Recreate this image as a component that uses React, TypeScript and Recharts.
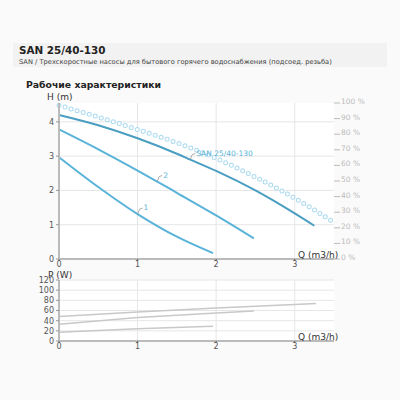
import { LineChart, Line, XAxis, YAxis, CartesianGrid } from 'recharts';

// pump curves, H (m) vs Q (m3/h)
const Q_SPEED1 = [0, 0.5, 1, 1.5, 1.96];
const H_SPEED1 = [2.97, 2.1, 1.31, 0.65, 0.17];
const Q_SPEED2 = [0, 0.5, 1, 1.25, 1.5, 2, 2.48];
const H_SPEED2 = [3.78, 3.2, 2.58, 2.26, 1.93, 1.27, 0.6];
const Q_SPEED3 = [0, 0.5, 1, 1.5, 1.67, 2, 2.5, 3, 3.25];
const H_SPEED3 = [4.2, 3.9, 3.52, 3.07, 2.9, 2.57, 2.0, 1.33, 0.97];

// efficiency (%)
const Q_EFF = [0, 0.5, 1, 1.5, 2, 2.5, 3, 3.5];
const EFF = [98.5, 91, 83, 74.5, 64.5, 52.5, 39, 23.5];

// power, P (W)
const Q_P1 = [0, 1, 1.96];
const P1 = [17, 24, 29];
const Q_P2 = [0, 1, 2, 2.48];
const P2 = [33, 46, 55, 59];
const Q_P3 = [0, 1, 2, 3, 3.27];
const P3 = [48, 57, 65, 72, 74];

const Q_TICKS = [0, 1, 2, 3];
const H_TICKS = [0, 1, 2, 3, 4];
const PCT_TICKS = [0, 10, 20, 30, 40, 50, 60, 70, 80, 90, 100];
const P_TICKS = [0, 20, 40, 60, 80, 100, 120];

const pairs = (qs: number[], vs: number[]) => qs.map((q, i) => ({ q, v: vs[i] }));

const FONT = '"DejaVu Sans", Verdana, sans-serif';
const BLUE = '#5ab3d8';
const BLUE_DARK = '#4a9ec2';
const EFF_BLUE = '#acdaef';

const curveLabel = (text: string, at: number) => (props: any) => {
  const { x, y, index } = props;
  if (index !== at) return null;
  return (
    <g>
      <path d={`M${x},${y} L${x + 2},${y - 5} L${x + 5},${y - 6}`} stroke="#999" strokeWidth={0.8} fill="none" />
      <text x={x + 6} y={y - 4} fontSize={7.5} fill={BLUE} fontFamily={FONT}>
        {text}
      </text>
    </g>
  );
};

const PctTick = ({ x, y, payload }: any) => (
  <g>
    <line x1={x} x2={x + 6} y1={y} y2={y} stroke="#bbb" strokeWidth={1} />
    <text x={x + 7} y={y + 1} fontSize={7.5} fill="#bbb" fontFamily={FONT}>
      {payload.value} %
    </text>
  </g>
);

const tickStyle = { fontSize: 8, fill: '#555', fontFamily: FONT };

export default function App() {
  return (
    <div style={{ position: 'absolute', left: 0, top: 0, width: 400, height: 400, background: '#fafafa', fontFamily: FONT }}>
      {/* header */}
      <div style={{ position: 'absolute', left: 13, top: 43, width: 374, height: 24, background: '#f2f2f2' }} />
      <div style={{ position: 'absolute', left: 19, top: 44, fontSize: 10.4, fontWeight: 'bold', color: '#222' }}>SAN 25/40-130</div>
      <div style={{ position: 'absolute', left: 19, top: 58, fontSize: 6.7, color: '#444', whiteSpace: 'nowrap' }}>
        SAN / Трехскоростные насосы для бытового горячего водоснабжения (подсоед. резьба)
      </div>
      <div style={{ position: 'absolute', left: 26, top: 79, fontSize: 9.3, fontWeight: 'bold', color: '#222' }}>Рабочие характеристики</div>

      {/* head / efficiency chart */}
      <div style={{ position: 'absolute', left: 0, top: 0 }}>
        <LineChart width={400} height={280} margin={{ top: 103, right: 26, left: 29, bottom: 5 }}>
          <CartesianGrid yAxisId="h" stroke="#e6e6e6" fill="#fff" horizontalValues={H_TICKS} verticalValues={Q_TICKS} />
          <XAxis
            type="number"
            dataKey="q"
            domain={[0, 3.5]}
            ticks={Q_TICKS}
            interval={0}
            height={16}
            tickSize={2}
            tickMargin={0}
            axisLine={{ stroke: '#bbb', strokeWidth: 2 }}
            tickLine={{ stroke: '#666' }}
            tick={tickStyle}
            allowDuplicatedCategory={false}
          />
          <YAxis
            yAxisId="h"
            type="number"
            domain={[0, 4.55]}
            ticks={H_TICKS}
            interval={0}
            width={30}
            tickSize={3}
            tickMargin={2}
            axisLine={{ stroke: '#bbb', strokeWidth: 2 }}
            tickLine={{ stroke: '#999' }}
            tick={tickStyle}
            allowDataOverflow
          />
          <YAxis
            yAxisId="pct"
            orientation="right"
            type="number"
            domain={[0, 100]}
            ticks={PCT_TICKS}
            interval={0}
            width={40}
            tickSize={0}
            tickMargin={0}
            axisLine={false}
            tickLine={false}
            tick={<PctTick />}
          />
          <Line
            yAxisId="pct"
            data={pairs(Q_EFF, EFF)}
            dataKey="v"
            type="monotone"
            stroke={EFF_BLUE}
            strokeWidth={5}
            strokeDasharray="0 6.3"
            strokeLinecap="round"
            dot={false}
            isAnimationActive={false}
          />
          <Line
            yAxisId="pct"
            data={pairs(Q_EFF, EFF)}
            dataKey="v"
            type="monotone"
            stroke="#fff"
            strokeWidth={3}
            strokeDasharray="0 6.3"
            strokeLinecap="round"
            dot={false}
            isAnimationActive={false}
          />
          <Line
            yAxisId="h"
            data={pairs(Q_SPEED1, H_SPEED1)}
            dataKey="v"
            type="monotone"
            stroke={BLUE}
            strokeWidth={2}
            dot={false}
            label={curveLabel('1', 2)}
            isAnimationActive={false}
          />
          <Line
            yAxisId="h"
            data={pairs(Q_SPEED2, H_SPEED2)}
            dataKey="v"
            type="monotone"
            stroke={BLUE}
            strokeWidth={2}
            dot={false}
            label={curveLabel('2', 3)}
            isAnimationActive={false}
          />
          <Line
            yAxisId="h"
            data={pairs(Q_SPEED3, H_SPEED3)}
            dataKey="v"
            type="monotone"
            stroke={BLUE_DARK}
            strokeWidth={2}
            dot={false}
            label={curveLabel('SAN 25/40-130', 4)}
            isAnimationActive={false}
          />
        </LineChart>
      </div>
      <div style={{ position: 'absolute', left: 47, top: 92, fontSize: 9, color: '#333' }}>H (m)</div>
      <div style={{ position: 'absolute', left: 298, top: 250, fontSize: 9, color: '#333' }}>Q (m3/h)</div>

      {/* power chart */}
      <div style={{ position: 'absolute', left: 0, top: 265 }}>
        <LineChart width={400} height={95} margin={{ top: 15, right: 66, left: 29, bottom: 3 }}>
          <CartesianGrid stroke="#e6e6e6" fill="#fff" horizontalValues={P_TICKS} verticalValues={Q_TICKS} />
          <XAxis
            type="number"
            dataKey="q"
            domain={[0, 3.5]}
            ticks={Q_TICKS}
            interval={0}
            height={16}
            tickSize={2}
            tickMargin={0}
            axisLine={{ stroke: '#bbb', strokeWidth: 2 }}
            tickLine={{ stroke: '#666' }}
            tick={tickStyle}
            allowDuplicatedCategory={false}
          />
          <YAxis
            type="number"
            domain={[0, 120]}
            ticks={P_TICKS}
            interval={0}
            width={30}
            tickSize={3}
            tickMargin={2}
            axisLine={{ stroke: '#bbb', strokeWidth: 2 }}
            tickLine={{ stroke: '#999' }}
            tick={tickStyle}
          />
          <Line data={pairs(Q_P1, P1)} dataKey="v" type="linear" stroke="#c8c8c8" strokeWidth={1.5} dot={false} isAnimationActive={false} />
          <Line data={pairs(Q_P2, P2)} dataKey="v" type="linear" stroke="#c8c8c8" strokeWidth={1.5} dot={false} isAnimationActive={false} />
          <Line data={pairs(Q_P3, P3)} dataKey="v" type="linear" stroke="#c8c8c8" strokeWidth={1.5} dot={false} isAnimationActive={false} />
        </LineChart>
      </div>
      <div style={{ position: 'absolute', left: 48, top: 270, fontSize: 9, color: '#333' }}>P (W)</div>
      <div style={{ position: 'absolute', left: 298, top: 332, fontSize: 9, color: '#333' }}>Q (m3/h)</div>
    </div>
  );
}
